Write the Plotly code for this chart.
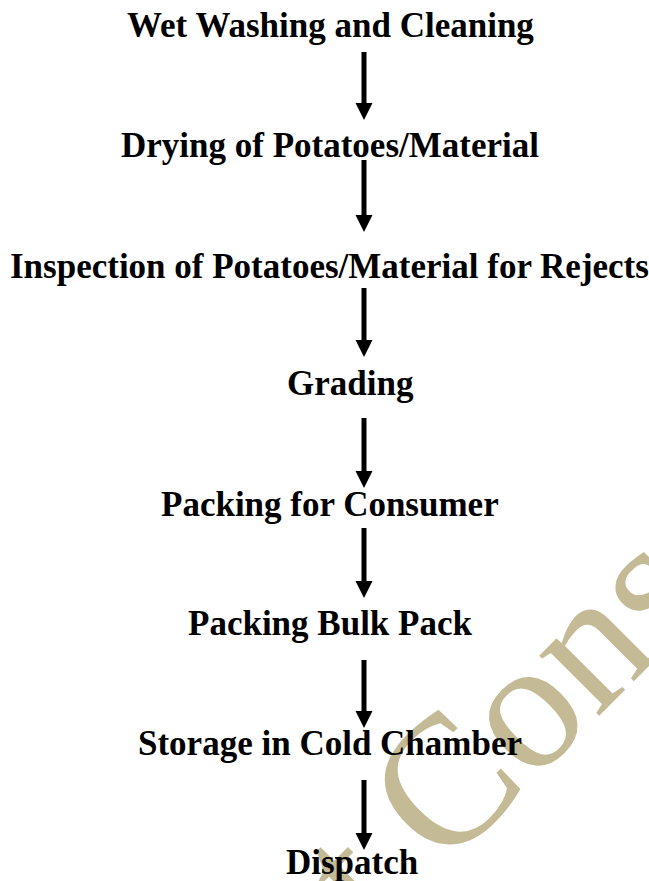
import plotly.graph_objects as go

# Flow steps (content)
steps = [
    "Wet Washing and Cleaning",
    "Drying of Potatoes/Material",
    "Inspection of Potatoes/Material for Rejects",
    "Grading",
    "Packing for Consumer",
    "Packing Bulk Pack",
    "Storage in Cold Chamber",
    "Dispatch",
]
watermark_text = "Project Consultancy"

# Layout (pixel coordinates on a 649 x 881 canvas)
W, H = 649, 881
label_x = [330, 330, 329, 350, 330, 330, 330, 352]
label_y = [25, 145, 266, 383, 504, 623, 743, 862]
arrow_x = 364
arrow_top = [52, 160, 288, 418, 528, 660, 780]
arrow_bottom = [120, 232, 357, 488, 598, 728, 850]

fig = go.Figure()
fig.add_trace(go.Scatter(x=[0, W], y=[0, H], mode="markers",
                         marker=dict(opacity=0), hoverinfo="skip", showlegend=False))

annotations = []
# watermark
annotations.append(dict(
    x=524, y=702, xref="x", yref="y", text=watermark_text, showarrow=False,
    textangle=-45, font=dict(family="Liberation Serif", size=185, color="#C4BB96"),
    xanchor="center", yanchor="middle"))

for s, x, y in zip(steps, label_x, label_y):
    annotations.append(dict(
        x=x, y=y, xref="x", yref="y", text="<b>" + s + "</b>", showarrow=False,
        font=dict(family="Liberation Serif", size=35, color="#000000"),
        xanchor="center", yanchor="middle"))

shapes = []
head_h, head_w = 17, 17
for t, b in zip(arrow_top, arrow_bottom):
    shapes.append(dict(type="line", xref="x", yref="y", x0=arrow_x, x1=arrow_x,
                       y0=t, y1=b - head_h + 2, line=dict(color="black", width=5), layer="above"))
    shapes.append(dict(type="path", xref="x", yref="y",
                       path=f"M {arrow_x - head_w/2} {b - head_h} L {arrow_x + head_w/2} {b - head_h} L {arrow_x} {b} Z",
                       fillcolor="black", line=dict(color="black", width=0), layer="above"))

fig.update_layout(
    width=W, height=H, margin=dict(l=0, r=0, t=0, b=0),
    paper_bgcolor="white", plot_bgcolor="white",
    xaxis=dict(range=[0, W], visible=False, fixedrange=True),
    yaxis=dict(range=[H, 0], visible=False, fixedrange=True),
    annotations=annotations, shapes=shapes, showlegend=False,
)
fig.write_html("out.html", config={"displayModeBar": False},
               post_script="document.body.style.margin='0';document.body.style.overflow='hidden';")
